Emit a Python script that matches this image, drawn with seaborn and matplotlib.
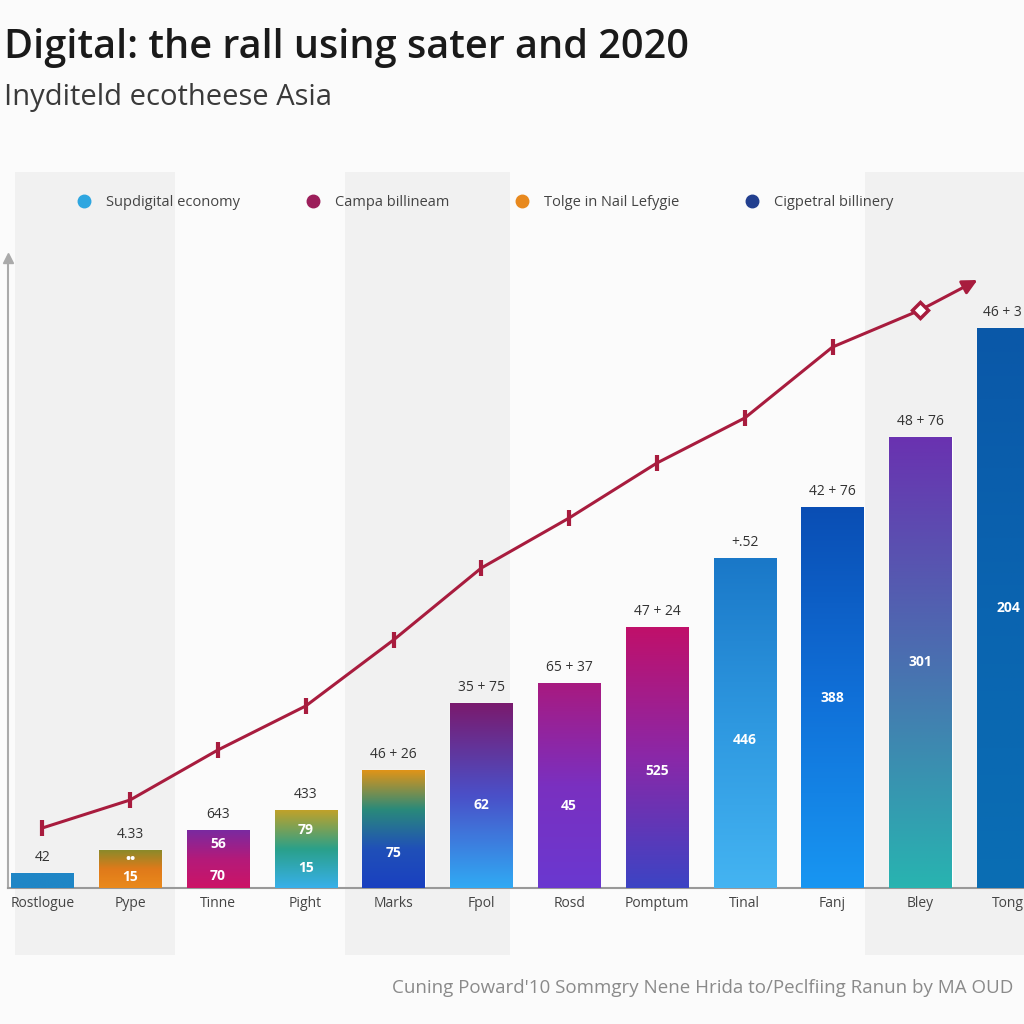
import numpy as np
import pandas as pd
import seaborn as sns
import matplotlib.pyplot as plt
from matplotlib.colors import LinearSegmentedColormap
from matplotlib.patches import Rectangle
from matplotlib.lines import Line2D

# data
categories = ["Rostlogue", "Pype", "Tinne", "Pight", "Marks", "Fpol",
              "Rosd", "Pomptum", "Tinal", "Fanj", "Bley", "Tong"]
bar_totals = [15, 38, 58, 78, 118, 185, 205, 261, 330, 381, 451, 560]
line_values = [60, 88, 138, 182, 248, 320, 370, 425, 470, 541, 578]
arrow_tip = (10.65, 608)
top_labels = ["42", "4.33", "643", "433", "46 + 26", "35 + 75", "65 + 37",
              "47 + 24", "+.52", "42 + 76", "48 + 76", "46 + 3"]
inner_labels = [[], [("••", 0.75), ("15", 0.3)], [("56", 0.75), ("70", 0.2)],
                [("79", 0.75), ("15", 0.25)], [("75", 0.3)], [("62", 0.45)],
                [("45", 0.4)], [("525", 0.45)], [("446", 0.45)], [("388", 0.5)],
                [("301", 0.5)], [("204", 0.5)]]
legend_labels = ["Supdigital economy", "Campa billineam",
                 "Tolge in Nail Lefygie", "Cigpetral billinery"]
legend_colors = ["#2ea6e0", "#9c1e5a", "#e8891e", "#223f8f"]

# gradient colours per bar (top -> bottom)
bar_gradients = [
    ["#1f86c6", "#1f86c6"],
    ["#8a8a2a", "#e07a1a", "#ea8a1c"],
    ["#7a2aa0", "#b41a7a", "#cc1466"],
    ["#c0a22a", "#2aa08a", "#38b0ea"],
    ["#e09418", "#2a8a7a", "#2050b8", "#1a40c0"],
    ["#7a1a6e", "#4a50c8", "#30aaf4"],
    ["#a81a80", "#7a30c0", "#6a38d0"],
    ["#c0106a", "#8a28a8", "#3c44c4"],
    ["#1a78c8", "#2e98e0", "#44b4f2"],
    ["#0a4eb4", "#1070d8", "#1896f2"],
    ["#6a32b0", "#4a70b0", "#28b4b0"],
    ["#0a58a8", "#0a64b0", "#0a6eb4"],
]

sns.set_theme(style="white")
plt.rcParams['font.family'] = ['Open Sans', 'DejaVu Sans']

fig = plt.figure(figsize=(10.24, 10.24), dpi=100)
fig.patch.set_facecolor("#fbfbfb")

# shaded background bands
for x0, x1 in [(15, 175), (345, 510), (865, 1024)]:
    fig.patches.append(Rectangle((x0 / 1024, 1 - 955 / 1024), (x1 - x0) / 1024,
                                 (955 - 172) / 1024, transform=fig.transFigure,
                                 facecolor="#f1f1f1", edgecolor="none", zorder=-5))

ax = fig.add_axes([8 / 1024, 1 - 888 / 1024, 1 - 8 / 1024, (888 - 258) / 1024])
ax.set_facecolor("none")
ax.set_zorder(2)

df = pd.DataFrame({"category": categories, "total": bar_totals})
sns.barplot(data=df, x="category", y="total", order=categories, color="#1f86c6",
            width=0.71, ax=ax, zorder=2)
ax.set_xlim(-0.39, 11.18)
ax.set_ylim(0, 630)

# fill each bar with its gradient
for patch, cols in zip(ax.patches, bar_gradients):
    x, y = patch.get_x(), patch.get_y()
    w, h = patch.get_width(), patch.get_height()
    cmap = LinearSegmentedColormap.from_list("g", cols[::-1])
    grad = np.linspace(0, 1, 256).reshape(-1, 1)
    im = ax.imshow(grad, cmap=cmap, aspect="auto", origin="lower",
                   extent=[x, x + w, y, y + h], zorder=3)
    im.set_clip_path(patch)
    patch.set_facecolor("none")

n = len(categories)
for i, (tot, lab) in enumerate(zip(bar_totals, top_labels)):
    last = i == n - 1
    ax.text(i + (0.15 if last else 0), tot + 8, lab,
            ha="right" if last else "center", va="bottom", fontsize=10,
            color="#333333", zorder=5)
    for txt, frac in inner_labels[i]:
        ax.text(i, tot * frac, txt, ha="center", va="center", fontsize=10,
                color="white", fontweight="bold", zorder=5)

# trend line
xs = np.arange(len(line_values))
ax.plot(xs, line_values, color="#a81c3e", lw=2.2, zorder=6)
ax.plot(xs[:-1], line_values[:-1], ls="none", marker="|", ms=12, mew=3,
        color="#a81c3e", zorder=6)
ax.annotate("", xy=arrow_tip, xytext=(xs[-1], line_values[-1]),
            arrowprops=dict(arrowstyle="-|>", color="#a81c3e", lw=2.2,
                            mutation_scale=22, shrinkA=0, shrinkB=0), zorder=6)
ax.plot(xs[-1], line_values[-1], ls="none", marker="D", ms=8, mfc="white",
        mec="#a81c3e", mew=2.5, zorder=7)

sns.despine(ax=ax, top=True, right=True)
ax.spines["left"].set_color("#aaaaaa")
ax.spines["left"].set_linewidth(1.5)
ax.spines["bottom"].set_color("#999999")
ax.spines["bottom"].set_linewidth(1.5)
ax.plot(0, 1, marker="^", ms=7, color="#aaaaaa", transform=ax.transAxes,
        clip_on=False)
ax.set_yticks([])
ax.set_xlabel("")
ax.set_ylabel("")
ax.tick_params(axis="x", length=0, pad=6, labelsize=10, labelcolor="#444444")

# titles
fig.text(0.004, 1 - 48 / 1024, "Digital: the rall using sater and 2020",
         fontsize=28.5, fontweight="semibold", color="#1a1a1a", va="center")
fig.text(0.004, 1 - 97 / 1024, "Inyditeld ecotheese Asia", fontsize=21,
         color="#3a3a3a", va="center")

# legend
handles = [Line2D([], [], ls="none", marker="o", ms=9, color=c) for c in legend_colors]
fig.legend(handles, legend_labels, loc="center", bbox_to_anchor=(0.47, 1 - 203 / 1024),
           ncol=4, frameon=False, fontsize=10.5, handletextpad=0.5, columnspacing=4.0,
           labelcolor="#444444")

fig.text(0.99, 1 - 988 / 1024,
         "Cuning Poward'10 Sommgry Nene Hrida to/Peclfiing Ranun by MA OUD",
         ha="right", va="center", fontsize=13.5, color="#8a8a8a")

fig.savefig("out.png", dpi=100, facecolor=fig.get_facecolor())
